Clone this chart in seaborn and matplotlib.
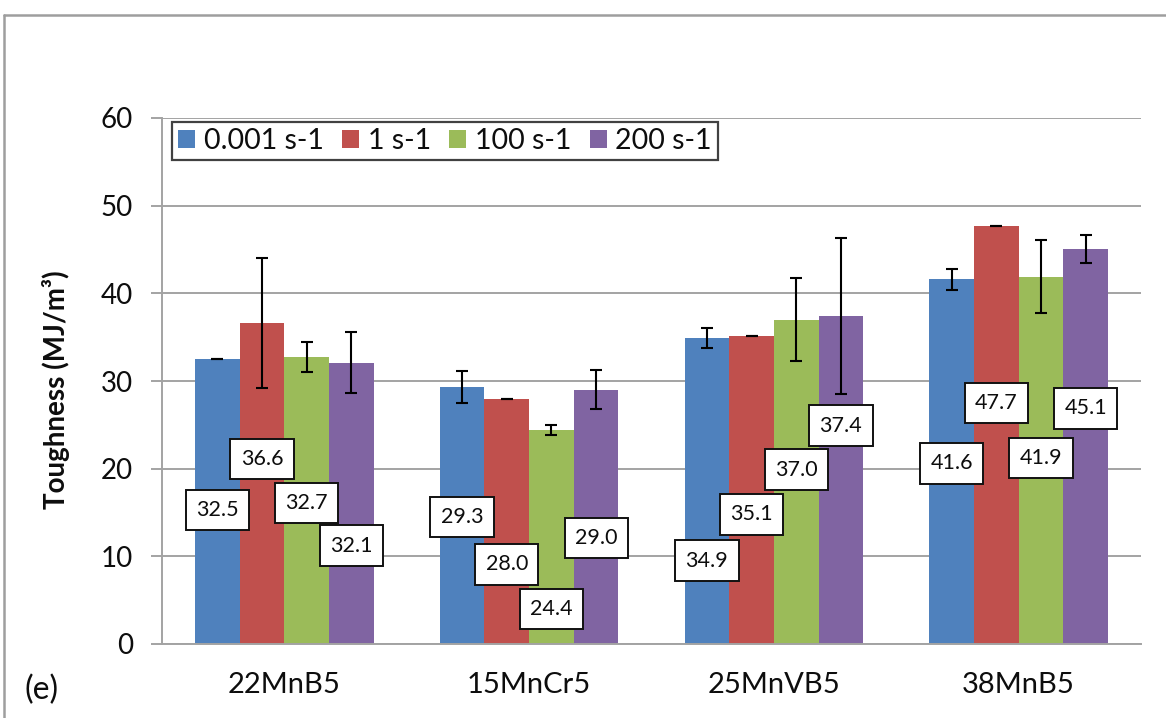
import matplotlib
matplotlib.use("Agg")
import matplotlib.pyplot as plt
from matplotlib.lines import Line2D
import seaborn as sns
import pandas as pd

# Data
steels = ['22MnB5', '15MnCr5', '25MnVB5', '38MnB5']
rates = ['0.001 s-1', '1 s-1', '100 s-1', '200 s-1']

tough_0001 = [32.5, 29.3, 34.9, 41.6]
tough_1 = [36.6, 28.0, 35.1, 47.7]
tough_100 = [32.7, 24.4, 37.0, 41.9]
tough_200 = [32.1, 29.0, 37.4, 45.1]

err_0001 = [0.0, 1.8, 1.1, 1.2]
err_1 = [7.4, 0.0, 0.0, 0.0]
err_100 = [1.7, 0.6, 4.7, 4.2]
err_200 = [3.5, 2.2, 8.9, 1.6]

# where the value boxes sit (y of box centre, data units)
label_y_0001 = [15.3, 14.5, 9.5, 20.6]
label_y_1 = [21.1, 9.1, 14.8, 27.5]
label_y_100 = [16.1, 4.0, 19.9, 21.2]
label_y_200 = [11.2, 12.1, 24.9, 26.9]

colors = ['#4F81BD', '#C0504D', '#9BBB59', '#8064A2']

values = [tough_0001, tough_1, tough_100, tough_200]
errors = [err_0001, err_1, err_100, err_200]
label_ys = [label_y_0001, label_y_1, label_y_100, label_y_200]

df = pd.DataFrame({
    'steel': steels * 4,
    'rate': [r for r in rates for _ in steels],
    'toughness': tough_0001 + tough_1 + tough_100 + tough_200,
})

sns.set_style('white')
plt.rcParams['font.family'] = ['Lato', 'DejaVu Sans']
text_col = '#0d0d0d'
grid_col = '#a3a3a3'

fig = plt.figure(figsize=(11.66, 7.18), dpi=100)
ax = fig.add_axes([162 / 1166, 1 - 644 / 718, (1141 - 162) / 1166, (644 - 118) / 718])

sns.barplot(data=df, x='steel', y='toughness', hue='rate', order=steels,
            hue_order=rates, palette=colors, saturation=1, width=0.73,
            linewidth=0, errorbar=None, ax=ax)

# error bars and value boxes on each bar
for cont, err, lys in zip(ax.containers, errors, label_ys):
    xs = [p.get_x() + p.get_width() / 2 for p in cont.patches]
    hs = [p.get_height() for p in cont.patches]
    ax.errorbar(xs, hs, yerr=err, fmt='none', ecolor='black', elinewidth=1.5,
                capsize=4.5, capthick=1.5, zorder=4)
    for x, h, ly in zip(xs, hs, lys):
        ax.text(x, ly, f'{h:.1f}', ha='center', va='center', fontsize=15.5,
                color=text_col, zorder=6,
                bbox=dict(boxstyle='square,pad=0.48', fc='white', ec='#111111', lw=1.4))

ax.set_ylim(0, 60)
ax.set_xlim(-0.5, 3.5)
ax.set_yticks(range(0, 61, 10))
ax.yaxis.grid(True, color=grid_col, lw=1.4)
ax.set_axisbelow(True)

for s in ['top', 'right']:
    ax.spines[s].set_visible(False)
for s in ['left', 'bottom']:
    ax.spines[s].set_color(grid_col)
    ax.spines[s].set_linewidth(1.4)

ax.set_xticks([-0.5, 0.5, 1.5, 2.5, 3.5], minor=True)
ax.tick_params(axis='x', which='minor', length=9, width=1.4, color=grid_col, direction='out')
ax.tick_params(axis='x', which='major', length=0, pad=20, labelsize=21, labelcolor=text_col)
ax.tick_params(axis='y', length=8, width=1.4, color=grid_col, direction='out', pad=13,
               labelsize=20, labelcolor=text_col, left=True)
ax.set_xlabel('')
ax.set_ylabel('')

fig.text(56 / 1166, 1 - 390 / 718, 'Toughness (MJ/m³)', rotation=90, ha='center',
         va='center', fontsize=20, fontweight='bold', color=text_col)
fig.text(42 / 1166, 1 - 690 / 718, '(e)', ha='center', va='center', fontsize=23,
         color=text_col)

leg = ax.legend(ncol=4, loc='upper left', bbox_to_anchor=(0.0105, 0.992), fontsize=20.5,
                frameon=True, fancybox=False, handlelength=0.6, handleheight=0.6,
                handletextpad=0.3, columnspacing=0.65, borderpad=0.2, borderaxespad=0)
leg.get_frame().set_edgecolor('#111111')
leg.get_frame().set_linewidth(1.6)
for t in leg.get_texts():
    t.set_color(text_col)

# outer chart border, cut off at right and bottom like the screenshot
border = '#9e9e9e'
fig.add_artist(Line2D([4 / 1166, 1.0], [1 - 15 / 718] * 2, transform=fig.transFigure,
                      color=border, lw=1.8))
fig.add_artist(Line2D([4 / 1166] * 2, [0.0, 1 - 15 / 718], transform=fig.transFigure,
                      color=border, lw=1.8))

fig.savefig('out.png', dpi=100)
